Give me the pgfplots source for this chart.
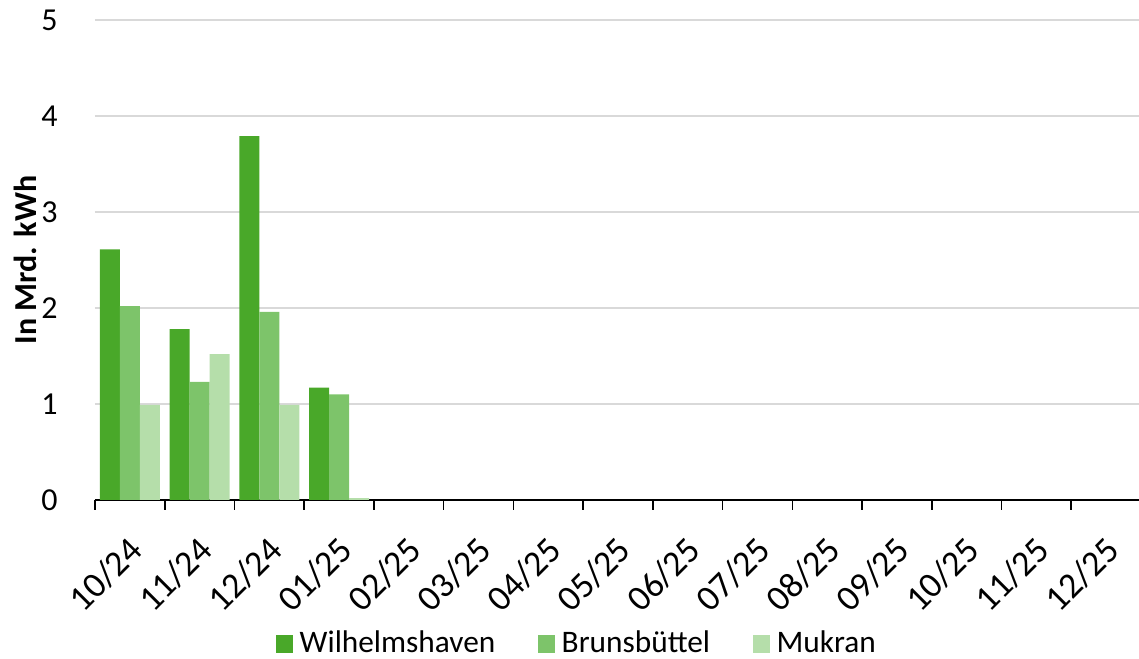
\documentclass[border=0pt]{standalone}
\usepackage{pgfplots}
\pgfplotsset{compat=1.18}
\usepackage{fontspec}
\setmainfont{Carlito}
\definecolor{cW}{HTML}{49A829}
\definecolor{cB}{HTML}{7DC46A}
\definecolor{cM}{HTML}{B5DEAA}
\definecolor{gridc}{HTML}{D9D9D9}
\begin{document}
\fontsize{23pt}{27pt}\selectfont
\begin{tikzpicture}
\begin{axis}[
  scale only axis,
  width=784.5pt, height=360pt,
  xmin=-0.5, xmax=14.5, ymin=0, ymax=5,
  ybar=0pt, bar width=15pt,
  ytick={0,1,2,3,4,5},
  xtick={0,...,14},
  xticklabels={10/24,11/24,12/24,01/25,02/25,03/25,04/25,05/25,06/25,07/25,08/25,09/25,10/25,11/25,12/25},
  minor xtick={-0.5,0.5,...,14.5},
  major x tick style={draw=none},
  minor x tick style={black, line width=1.2pt},
  minor tick length=7.5pt,
  tick align=outside,
  axis x line*=bottom,
  axis y line*=left,
  y axis line style={draw=none},
  ytick style={draw=none},
  x axis line style={black, line width=1.2pt, -},
  ymajorgrids,
  grid style={gridc, line width=1.2pt},
  /pgf/number format/assume math mode=true,
  yticklabel style={anchor=east, xshift=-16pt, font=\fontsize{24pt}{28pt}\selectfont},
  xticklabel style={rotate=45, anchor=north east, yshift=-6pt, xshift=-9pt, font=\fontsize{27pt}{31pt}\selectfont},
  ylabel={\textbf{In Mrd. kWh}},
  ylabel style={at={(axis description cs:-0.067,0.5)}, anchor=center, font=\fontsize{24pt}{28pt}\selectfont},
  legend style={at={(axis description cs:0.461,-0.300)}, anchor=center, draw=none, fill=none,
    legend columns=3, font=\fontsize{23.5pt}{27pt}\selectfont,
    /tikz/every odd column/.append style={column sep=3pt},
    /tikz/every even column/.append style={column sep=30pt}},
  legend image code/.code={\fill[#1] (0pt,-6.4pt) rectangle (12.8pt,6.4pt);},
]
\addplot[fill=cW, draw=none] coordinates {(0,2.61) (1,1.78) (2,3.79) (3,1.17)};
\addplot[fill=cB, draw=none] coordinates {(0,2.02) (1,1.23) (2,1.96) (3,1.10)};
\addplot[fill=cM, draw=none] coordinates {(0,0.99) (1,1.52) (2,0.99) (3,0.02)};
\legend{Wilhelmshaven, Brunsbüttel, Mukran}
\end{axis}
\pgfresetboundingbox
\useasboundingbox ([xshift=-71.25pt, yshift=-119.25pt]current axis.south west) rectangle ([xshift=-1.5pt, yshift=15pt]current axis.north east);
\end{tikzpicture}
\end{document}
